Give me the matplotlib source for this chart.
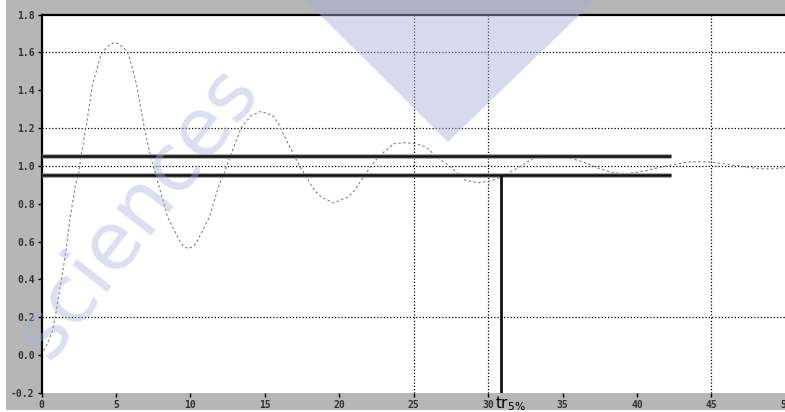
import matplotlib
matplotlib.use("Agg")
import matplotlib.pyplot as plt
from matplotlib.patches import Rectangle, Polygon
from matplotlib.transforms import blended_transform_factory

# ---- data ----
t_vals = [0.0, 0.4, 0.75, 0.92, 1.3, 1.64, 1.93, 2.31, 2.49, 2.65, 2.98, 3.43, 4.0, 4.37, 4.66,
          4.96, 5.2, 5.5, 5.85, 6.39, 6.91, 7.33, 7.5, 7.69, 8.47, 9.04, 9.37, 9.6, 9.85,
          10.15, 10.38, 11.28, 11.95, 12.22, 12.67, 13.41, 13.63, 14.08, 14.75, 15.53, 15.94,
          16.05, 17.0, 17.33, 17.73, 18.34, 18.79, 19.62, 20.58, 21.03, 21.7, 22.15, 22.65,
          23.4, 23.6, 24.4, 25.2, 25.85, 26.5, 27.4, 28.1, 28.5, 29.4, 30.3, 30.9, 32.1,
          33.0, 34.0, 35.3, 36.4, 37.5, 38.4, 39.3, 40.4, 41.3, 42.4, 43.4, 44.2, 45.0,
          45.8, 47.4, 48.2, 49.0, 50.0]
y_vals = [0.0, 0.06, 0.13, 0.20, 0.38, 0.55, 0.73, 0.91, 0.95, 1.05, 1.20, 1.43, 1.59, 1.627, 1.645,
          1.653, 1.645, 1.627, 1.59, 1.43, 1.20, 1.05, 1.00, 0.95, 0.73, 0.64, 0.589, 0.572, 0.563,
          0.572, 0.589, 0.73, 0.906, 0.95, 1.05, 1.20, 1.223, 1.266, 1.289, 1.266, 1.223,
          1.20, 1.05, 1.00, 0.95, 0.870, 0.835, 0.804, 0.835, 0.870, 0.95, 1.00, 1.05,
          1.099, 1.117, 1.123, 1.117, 1.099, 1.05, 1.00, 0.95, 0.923, 0.911, 0.923, 0.941, 0.994,
          1.038, 1.05, 1.046, 1.02, 0.985, 0.964, 0.959, 0.971, 0.988, 1.006, 1.02, 1.022, 1.02,
          1.012, 0.994, 0.985, 0.985, 0.99]

band_levels = [1.05, 0.95]
band_end = 42.3
t_r = 30.9
hgrid = [1.6, 1.2, 1.0, 0.2]
vgrid = [25, 30, 45]
x_ticks = [0, 5, 10, 15, 20, 25, 30, 35, 40, 45, 50]
x_ticklabels = ["0", "5", "10", "15", "20", "25", "30", "35", "40", "45", "50"]
y_ticks = [1.8, 1.6, 1.4, 1.2, 1.0, 0.8, 0.6, 0.4, 0.2, 0.0, -0.2]
y_ticklabels = ["1.8", "1.6", "1.4", "1.2", "1.0", "0.8", "0.6", "0.4", "0.2", "0.0", "-0.2"]
tr_label = r"tr$_{5\%}$"
watermark = "sciences"

W, H = 785, 412
fig = plt.figure(figsize=(W / 100, H / 100), dpi=100)
fig.patch.set_facecolor("white")
# gray frame background
fig.patches.append(Rectangle((6 / W, 2 / H), 1, 1, transform=fig.transFigure,
                             facecolor="#b6b6b6", edgecolor="none", zorder=-10))

ax = fig.add_axes([41.5 / W, (H - 392.7) / H, (785.8 - 41.5) / W, (392.7 - 14.7) / H])
ax.set_facecolor("white")
ax.set_xlim(0, 50)
ax.set_ylim(-0.2, 1.8)

for g in hgrid:
    ax.axhline(g, color="black", lw=0.9, ls=(0, (1, 1.6)), zorder=1)
for g in vgrid:
    ax.axvline(g, color="black", lw=0.9, ls=(0, (1, 1.6)), zorder=1)

ax.plot(t_vals, y_vals, color="#808080", lw=0.8, ls=(0, (2.2, 2.2)), zorder=2)

for b in band_levels:
    ax.plot([0, band_end], [b, b], color="#a0a0a0", lw=3.4, solid_capstyle="butt", zorder=3)
    ax.plot([0, band_end], [b, b], color="#111111", lw=1.8, solid_capstyle="butt", zorder=3)

ax.plot([t_r, t_r], [band_levels[1], -0.2], color="#111111", lw=2.0, solid_capstyle="butt", zorder=3)

ax.set_xticks(x_ticks)
ax.set_xticklabels(x_ticklabels)
ax.set_yticks(y_ticks)
ax.set_yticklabels(y_ticklabels)
ax.tick_params(axis="both", length=3, width=1, color="black", labelsize=7,
               labelcolor="#333333", pad=2)
for lab in ax.get_xticklabels() + ax.get_yticklabels():
    lab.set_family("DejaVu Sans Mono")
    lab.set_fontweight("bold")

for s in ["left", "top"]:
    ax.spines[s].set_color("black")
    ax.spines[s].set_linewidth(1.6)
ax.spines["bottom"].set_visible(False)
ax.spines["right"].set_visible(False)

trans = blended_transform_factory(ax.transData, ax.transAxes)
ax.annotate(tr_label, xy=(t_r, 0), xycoords=trans, xytext=(-5, -1.5),
            textcoords="offset points", ha="left", va="top", fontsize=11,
            color="black", annotation_clip=False)

# watermark
fig.patches.append(Polygon([(305 / W, 1), (595 / W, 1), (448 / W, 1 - 142 / H)],
                           closed=True, transform=fig.transFigure,
                           facecolor="#a8afd8", alpha=0.45, edgecolor="none", zorder=5))
fig.text(138 / W, 1 - 212 / H, watermark, rotation=52, fontsize=58, color="#a8afd8",
         alpha=0.4, ha="center", va="center", zorder=5, family="DejaVu Sans")

fig.savefig("out.png", dpi=100, facecolor=fig.get_facecolor())
